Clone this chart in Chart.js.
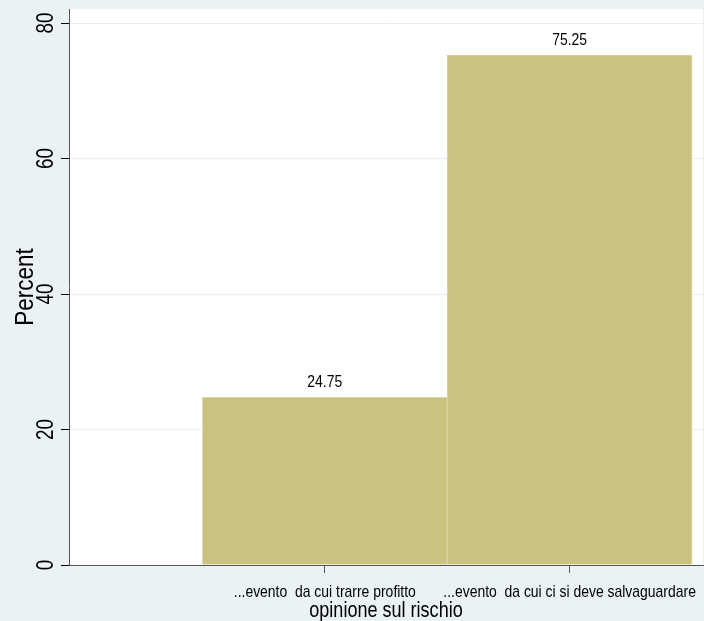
<!DOCTYPE html>
<html>
<head>
<meta charset="utf-8">
<script src="https://cdn.jsdelivr.net/npm/chart.js@4"></script>
<style>
  html, body { margin: 0; padding: 0; background: #eaf2f3; }
  #wrap { width: 704px; height: 621px; }
</style>
</head>
<body>
<div id="wrap"><canvas id="chartCanvas" width="704" height="621"></canvas></div>
<script>
const categories = ['...evento  da cui trarre profitto', '...evento  da cui ci si deve salvaguardare'];
const positions = [1, 2];
const percents = [24.75, 75.25];
const yTicks = [0, 20, 40, 60, 80];
const xTitle = 'opinione sul rischio';
const yTitle = 'Percent';

const FONT = "'Liberation Sans', Arial, sans-serif";

// no narrow font installed: squeeze Liberation Sans horizontally
function narrowText(ctx, text, x, y, size, squeeze, rot) {
  ctx.save();
  ctx.translate(x, y);
  if (rot) ctx.rotate(rot);
  ctx.scale(squeeze, 1);
  ctx.font = size + 'px ' + FONT;
  ctx.fillText(text, 0, 0);
  ctx.restore();
}

// stata-ish background: light blue outer, white plot region
const bgPlugin = {
  id: 'bg',
  beforeDraw(chart) {
    const { ctx, chartArea: a } = chart;
    ctx.save();
    ctx.fillStyle = '#eaf2f3';
    ctx.fillRect(0, 0, chart.width, chart.height);
    ctx.fillStyle = '#ffffff';
    ctx.fillRect(a.left, a.top, a.right - a.left, a.bottom - a.top);
    ctx.restore();
  }
};

const labelPlugin = {
  id: 'labels',
  afterDraw(chart) {
    const ctx = chart.ctx;
    const xs = chart.scales.x, ys = chart.scales.y, a = chart.chartArea;
    ctx.save();
    ctx.fillStyle = '#000';
    ctx.textAlign = 'center';
    ctx.textBaseline = 'alphabetic';
    // y tick labels, rotated
    yTicks.forEach(v => {
      narrowText(ctx, String(v), 53, ys.getPixelForValue(v), 23, 0.82, -Math.PI / 2);
    });
    // y title
    narrowText(ctx, yTitle, 33, (a.top + a.bottom) / 2, 25, 0.9, -Math.PI / 2);
    // x tick labels
    positions.forEach((p, i) => {
      narrowText(ctx, categories[i], xs.getPixelForValue(p), 597, 17, 0.82, 0);
    });
    // x title
    narrowText(ctx, xTitle, (a.left + a.right) / 2, 617, 22, 0.82, 0);
    // values over bars
    chart.getDatasetMeta(0).data.forEach((bar, i) => {
      narrowText(ctx, percents[i].toFixed(2), bar.x, bar.y - 10, 17, 0.82, 0);
    });
    ctx.restore();
  }
};

const data = {
  datasets: [{
    data: positions.map((p, i) => ({ x: p, y: percents[i] })),
    backgroundColor: '#c9c37f',
    borderColor: '#d8d4a4',
    borderWidth: 1,
    barPercentage: 1,
    categoryPercentage: 1,
  }],
};

const options = {
  responsive: false,
  animation: false,
  layout: { padding: { top: 9, right: 1, left: 0, bottom: 0 } },
  plugins: { legend: { display: false }, tooltip: { enabled: false } },
  scales: {
    x: {
      type: 'linear',
      min: -0.045,
      max: 2.545,
      offset: false,
      afterBuildTicks: s => { s.ticks = positions.map(v => ({ value: v })); },
      afterFit: s => { s.height = 56; s.paddingLeft = 0; s.paddingRight = 0; },
      ticks: { display: false },
      grid: { offset: false, drawOnChartArea: false, tickLength: 8, tickColor: '#555' },
      border: { color: '#555', width: 1 },
    },
    y: {
      min: 0,
      max: 82.07,
      afterBuildTicks: s => { s.ticks = yTicks.map(v => ({ value: v })); },
      afterFit: s => { s.width = 69; s.paddingTop = 0; s.paddingBottom = 0; },
      ticks: { display: false },
      grid: { color: '#e6eff1', lineWidth: 1, tickLength: 8, tickColor: '#000' },
      border: { color: '#555', width: 1 },
    },
  },
};

const myChart = new Chart(document.getElementById('chartCanvas'), {
  type: 'bar',
  data: data,
  options: options,
  plugins: [bgPlugin, labelPlugin],
});
</script>
</body>
</html>
